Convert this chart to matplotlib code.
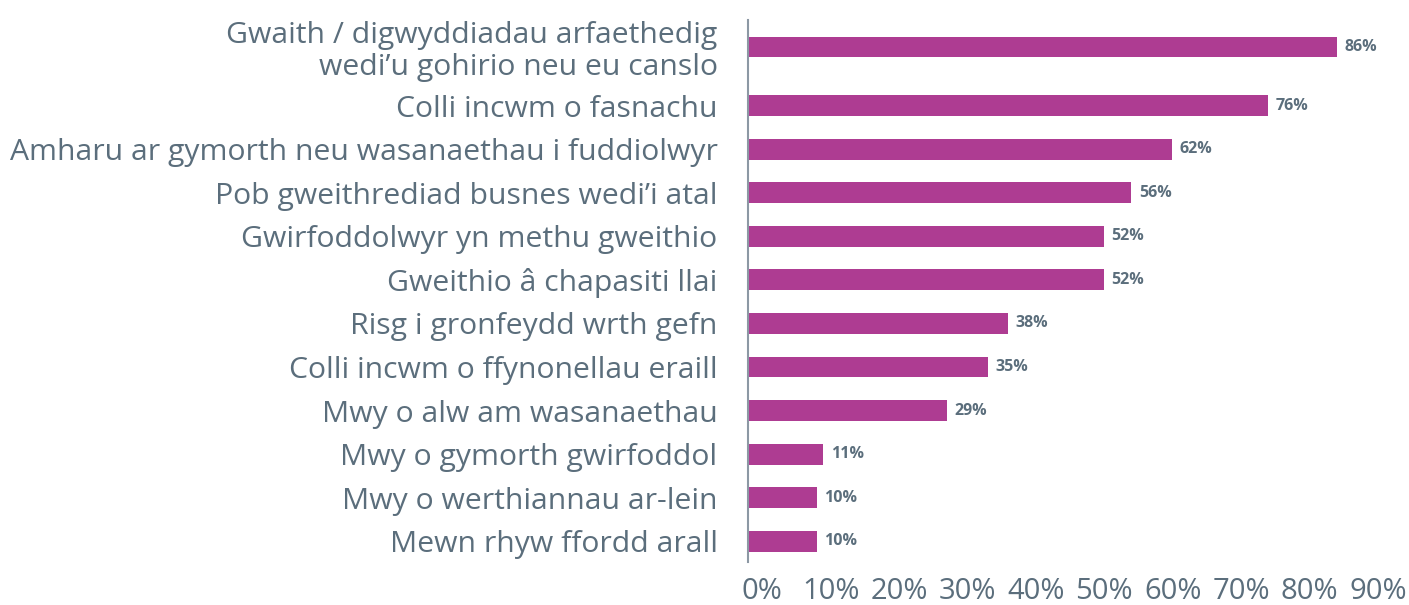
import numpy as np
import matplotlib
matplotlib.use("Agg")
import matplotlib.pyplot as plt
import matplotlib.transforms as mtransforms

categories = [
    "Gwaith / digwyddiadau arfaethedig\nwedi\u2019u gohirio neu eu canslo",
    "Colli incwm o fasnachu",
    "Amharu ar gymorth neu wasanaethau i fuddiolwyr",
    "Pob gweithrediad busnes wedi\u2019i atal",
    "Gwirfoddolwyr yn methu gweithio",
    "Gweithio \u00e2 chapasiti llai",
    "Risg i gronfeydd wrth gefn",
    "Colli incwm o ffynonellau eraill",
    "Mwy o alw am wasanaethau",
    "Mwy o gymorth gwirfoddol",
    "Mwy o werthiannau ar-lein",
    "Mewn rhyw ffordd arall",
]
values = [86, 76, 62, 56, 52, 52, 38, 35, 29, 11, 10, 10]
xticks = [0, 10, 20, 30, 40, 50, 60, 70, 80, 90]

bar_color = "#AE3C92"
text_color = "#5B6E7C"
font = "Open Sans"

# first category has a two-line label, so it gets a bit more room
first_gap = 1.35
ypos = np.concatenate([[0], first_gap + np.arange(len(values) - 1)])

fig = plt.figure(figsize=(14.09, 6.05), dpi=100)
ax = fig.add_axes([0.531, 0.071, 0.968 - 0.531, 0.967 - 0.071])

ax.barh(ypos, values, height=0.48, color=bar_color)
for y, v in zip(ypos, values):
    ax.text(v + 1.1, y, f"{v}%", va="center", ha="left", fontsize=11.5,
            fontweight="bold", color=text_color, family=font)

ax.set_xlim(0, 90)
ax.set_ylim(ypos[-1] + 0.48, -0.62)
ax.set_yticks(ypos)
ax.set_yticklabels(categories, fontsize=21.7, color=text_color, family=font,
                   linespacing=1.12)
ax.set_xticks(xticks)
ax.set_xticklabels([f"{t}%" for t in xticks], fontsize=21, color=text_color,
                   family=font)
ax.tick_params(axis="y", length=0, pad=22)
ax.tick_params(axis="x", length=0, pad=11)

offset = mtransforms.ScaledTranslation(14 / 100, 0, fig.dpi_scale_trans)
for lbl in ax.get_xticklabels():
    lbl.set_transform(lbl.get_transform() + offset)

for side in ["top", "right", "bottom"]:
    ax.spines[side].set_visible(False)
ax.spines["left"].set_color("#8C98A4")
ax.spines["left"].set_linewidth(1.5)

fig.savefig("out.png", dpi=100)
